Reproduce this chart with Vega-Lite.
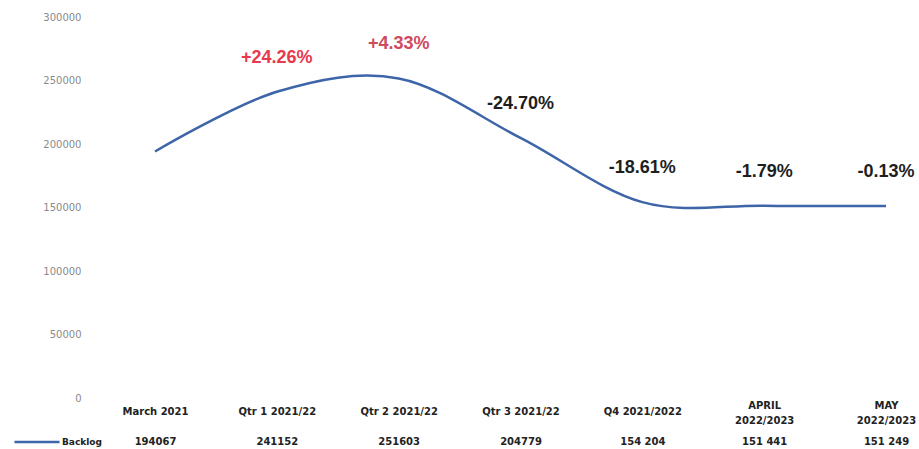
{
  "$schema": "https://vega.github.io/schema/vega-lite/v6.json",
  "width": 822,
  "height": 381,
  "autosize": "none",
  "padding": {"left": 95, "top": 17, "right": 2, "bottom": 51},
  "background": "white",
  "config": {"view": {"stroke": null}},
  "data": {"values": [
    {"period": "March 2021", "val": "194067", "backlog": 194067, "pct": ""},
    {"period": "Qtr 1 2021/22", "val": "241152", "backlog": 241152, "pct": "+24.26%"},
    {"period": "Qtr 2 2021/22", "val": "251603", "backlog": 251603, "pct": "+4.33%"},
    {"period": "Qtr 3 2021/22", "val": "204779", "backlog": 204779, "pct": "-24.70%"},
    {"period": "Q4  2021/2022", "val": "154 204", "backlog": 154204, "pct": "-18.61%"},
    {"period": "APRIL|2022/2023", "val": "151 441", "backlog": 151441, "pct": "-1.79%"},
    {"period": "MAY|2022/2023", "val": "151 249", "backlog": 151249, "pct": "-0.13%"}
  ]},
  "layer": [
    {
      "mark": {"type": "line", "interpolate": "cardinal", "strokeWidth": 2.5},
      "encoding": {
        "x": {"field": "period", "type": "nominal", "sort": null,
          "scale": {"type": "point", "range": [60, 791], "padding": 0},
          "axis": {"title": null, "domain": false, "ticks": false, "labelAngle": 0,
            "labelExpr": "split(datum.label, '|')", "labelBaseline": "middle",
            "labelPadding": {"condition": {"test": "indexof(datum.value, '|') >= 0", "value": 7}, "value": 13},
            "labelFont": "DejaVu Sans", "labelFontWeight": "bold", "labelFontSize": 10,
            "labelColor": "#222", "labelLineHeight": 15}},
        "y": {"field": "backlog", "type": "quantitative",
          "scale": {"domain": [0, 300000], "nice": false},
          "axis": {"title": null, "domain": false, "ticks": false, "grid": false,
            "values": [0, 50000, 100000, 150000, 200000, 250000, 300000], "format": "d",
            "labelFont": "DejaVu Sans", "labelFontSize": 10, "labelColor": "#8a8a8a", "labelPadding": 14}},
        "color": {"datum": "Backlog", "type": "nominal",
          "scale": {"range": ["#3d65a8"]},
          "legend": {"title": null, "orient": "none", "legendX": -82, "legendY": 401,
            "symbolType": "stroke", "symbolSize": 2025, "symbolStrokeWidth": 2.5,
            "labelFont": "DejaVu Sans", "labelFontWeight": "bold", "labelFontSize": 9,
            "labelColor": "#222", "labelOffset": 1}}
      }
    },
    {
      "mark": {"type": "text", "dy": -34, "font": "Liberation Sans", "fontSize": 18, "fontWeight": "bold"},
      "encoding": {
        "x": {"field": "val", "type": "nominal", "sort": null,
          "scale": {"type": "point", "range": [60, 791], "padding": 0},
          "axis": {"title": null, "domain": false, "ticks": false, "labelAngle": 0, "orient": "bottom",
            "offset": 30, "labelBaseline": "middle", "labelPadding": 13,
            "labelFont": "DejaVu Sans", "labelFontWeight": "bold", "labelFontSize": 10,
            "labelColor": "#222"}},
        "y": {"field": "backlog", "type": "quantitative"},
        "text": {"field": "pct"},
        "color": {"condition": [
          {"test": "datum.pct === '+4.33%'", "value": "#cf4a5c"},
          {"test": "indexof(datum.pct, '+') === 0", "value": "#e8394d"}
        ], "value": "#1e1e1e"}
      }
    }
  ],
  "resolve": {"scale": {"x": "independent"}}
}
